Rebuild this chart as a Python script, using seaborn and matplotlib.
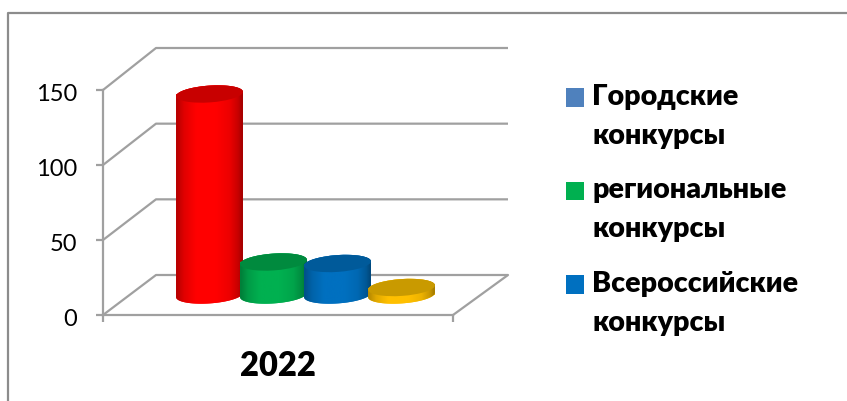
import numpy as np
import pandas as pd
import matplotlib
matplotlib.use("Agg")
import matplotlib.pyplot as plt
from matplotlib.patches import Patch, PathPatch, Ellipse, Rectangle
from matplotlib.path import Path
from matplotlib.lines import Line2D
from matplotlib.legend_handler import HandlerPatch
from matplotlib.transforms import IdentityTransform, ScaledTranslation
import seaborn as sns

# ---- data ----
year_label = "2022"
bar_index = [0, 1, 2, 3]
bar_values = [134, 22, 21, 5]
bar_colors = ["#FF0000", "#00B050", "#0070C0", "#FFC000"]
top_colors = ["#C80000", "#008A3E", "#005A9A", "#C99A00"]
legend_labels = ["Городские\nконкурсы", "региональные\nконкурсы", "Всероссийские\nконкурсы"]
legend_colors = ["#4F81BD", "#00B050", "#0070C0"]
y_ticks = [0, 50, 100, 150]

W, H = 847, 401
sns.set_theme(style="white")
plt.rcParams["font.family"] = ["Lato", "Open Sans", "DejaVu Sans"]
GRAY = "#A0A0A0"

fig = plt.figure(figsize=(W / 100, H / 100), dpi=100, facecolor="white")

def box(l, t, r, b):
    return [l / W, 1 - b / H, (r - l) / W, (b - t) / H]

# outer frame of the chart area
fig.add_artist(Line2D([8 / W, 8 / W, 1], [0, 1 - 13 / H, 1 - 13 / H], color="#8C8C8C", lw=1.6,
                      transform=fig.transFigure))

# ---- front axes with the value scale ----
ax = fig.add_axes(box(103, 90, 453, 315), facecolor="none", zorder=1)
ax.set_xlim(0, 1)
ax.set_ylim(0, 150)
ax.set_yticks(y_ticks)
ax.set_xticks([0, 1])
ax.set_xticklabels(["", ""])
ax.set_xticks([0.5], minor=True)
ax.set_xticklabels([year_label], minor=True, fontsize=23.5, fontweight=800, color="black")
ax.tick_params(axis="x", which="minor", length=0, pad=25.5)
ax.tick_params(axis="x", which="major", length=5, width=1.6, color=GRAY, bottom=True, pad=0)
ax.tick_params(axis="y", length=5, width=1.6, color=GRAY, left=True, labelsize=17, labelcolor="black", pad=13.5)
for lab in ax.get_yticklabels():
    lab.set_transform(lab.get_transform() + ScaledTranslation(0, -1.6 / 72, fig.dpi_scale_trans))
for s in ("top", "right"):
    ax.spines[s].set_visible(False)
for s in ("left", "bottom"):
    ax.spines[s].set_color(GRAY)
    ax.spines[s].set_linewidth(1.6)

# ---- walls and floor driven by the value scale ----
BACK_L, BACK_R, BACK_Y0, BACK_SCALE = 156, 508, 275, 227 / 150
wall = fig.add_axes([0, 0, 1, 1], facecolor="none", zorder=0)
wall.set_xlim(0, W)
wall.set_ylim(H, 0)
wall.axis("off")
for v in y_ticks:
    fy = 315 - v * 1.5
    by = BACK_Y0 - v * BACK_SCALE
    wall.plot([103, BACK_L, BACK_R], [fy, by, by], color=GRAY, lw=1.6, solid_capstyle="butt")
wall.plot([453, BACK_R], [315, BACK_Y0], color=GRAY, lw=1.6)

# ---- bars through seaborn ----
BASE_PX, UNIT_PX, X0_PX, BAR_PX, YSCALE = 295, 64, 209.5, 67, 1.5
bars = fig.add_axes([0, 0, 1, 1], facecolor="none", zorder=2)
df = pd.DataFrame({"bar": bar_index, "value": bar_values})
sns.barplot(data=df, x="bar", y="value", hue="bar", palette=bar_colors, legend=False,
            width=BAR_PX / UNIT_PX, saturation=1, ax=bars, linewidth=0, zorder=2)
bars.set_xlim(-X0_PX / UNIT_PX, (W - X0_PX) / UNIT_PX)
bars.set_ylim(-(H - BASE_PX) / YSCALE, BASE_PX / YSCALE)
bars.axis("off")

RX, RY, TILT = 33.5, 8.4, np.deg2rad(4.0)

def ell(cx, cy, t):
    x, y = RX * np.cos(t), RY * np.sin(t)
    return np.c_[cx + x * np.cos(TILT) - y * np.sin(TILT),
                 cy + x * np.sin(TILT) + y * np.cos(TILT)]

shade_x = np.array([0, .12, .3, .6, .8, .93, 1])
shade_f = np.array([.70, .88, 1, 1, .93, .78, .62])
grad = np.interp(np.linspace(0, 1, 200), shade_x, shade_f)[None, :, None]

for rect, col, tcol in zip(bars.patches, bar_colors, top_colors):
    x_mid = rect.get_x() + rect.get_width() / 2
    (cx, y0), (_, y1) = bars.transData.transform([(x_mid, 0), (x_mid, rect.get_height())])
    z = 2 + x_mid * 0.1
    rect.set_zorder(z)
    lower = ell(cx, y0, np.linspace(np.pi, 2 * np.pi, 60))
    upper = ell(cx, y1, np.linspace(0, np.pi, 60))
    verts = np.vstack([lower, upper, lower[:1]])
    clip = PathPatch(Path(verts), transform=IdentityTransform(), facecolor=col, edgecolor="none", zorder=z)
    bars.add_patch(clip)
    rgb = np.array(matplotlib.colors.to_rgb(col))[None, None, :] * grad
    im = bars.imshow(rgb, aspect="auto", zorder=z + 0.001,
                     extent=(rect.get_x(), rect.get_x() + rect.get_width(), -40, 200))
    im.set_clip_path(clip)
    bars.add_patch(Ellipse((cx, y1), 2 * RX, 2 * RY, angle=np.rad2deg(TILT), facecolor=tcol, edgecolor="none",
                           transform=IdentityTransform(), zorder=z + 0.002))
bars.set_xlim(-X0_PX / UNIT_PX, (W - X0_PX) / UNIT_PX)
bars.set_ylim(-(H - BASE_PX) / YSCALE, BASE_PX / YSCALE)

# ---- legend: swatch sits on the first of the two label lines ----
SWATCH_SHIFT = 14

def first_line_swatch(legend, orig_handle, xdescent, ydescent, width, height, fontsize):
    return Rectangle((-xdescent, -ydescent + SWATCH_SHIFT), width, height)

handles = [Patch(facecolor=c, edgecolor="none") for c in legend_colors]
fs = 20.6
leg = fig.legend(handles, legend_labels, loc="upper left", bbox_to_anchor=(566 / W, 1 - 84 / H),
                 frameon=False, prop={"weight": 800, "size": fs},
                 handlelength=0.63, handleheight=0.63, handletextpad=0.29, labelspacing=0.98,
                 borderpad=0, borderaxespad=0,
                 handler_map={Patch: HandlerPatch(patch_func=first_line_swatch)})
for t in leg.get_texts():
    t.set_linespacing(1.63)
    t.set_color("black")

fig.savefig("out.png", dpi=100, facecolor="white")
